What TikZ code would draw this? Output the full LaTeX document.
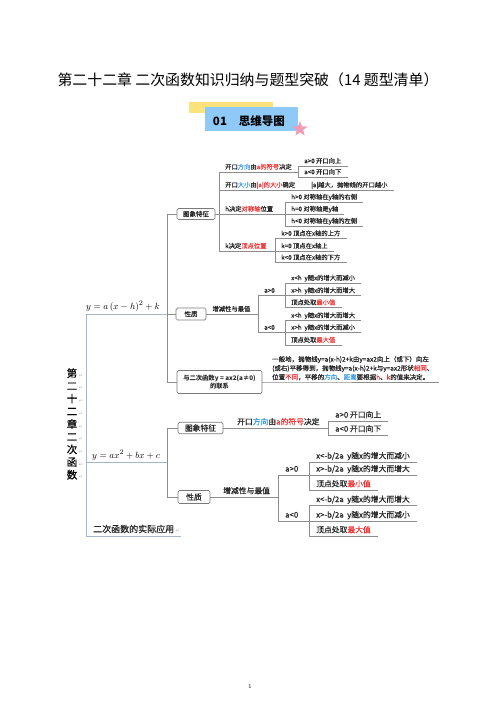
\documentclass[tikz,border=0pt]{standalone}
\usepackage{fontspec}
\usepackage{xcolor}
\usepackage{tikz}
\usetikzlibrary{positioning,shapes.geometric}
\newfontfamily\cjk{Noto Sans CJK SC}
\newfontfamily\cjkm{Noto Sans CJK SC}[FakeBold=0.7]
\newfontfamily\symf{DejaVu Sans}
\definecolor{lnc}{HTML}{8C8C8C}
\definecolor{boxc}{HTML}{7A7A7A}
\definecolor{trc}{HTML}{A7B6C6}
\definecolor{txc}{HTML}{262626}
\definecolor{hred}{HTML}{EC3A3A}
\definecolor{hblue}{HTML}{3A9BE3}
\definecolor{bannery}{HTML}{FBE27C}
\definecolor{bannerb}{HTML}{8FC9F7}
\definecolor{starp}{HTML}{F39BB6}
\newcommand{\rd}[1]{\textcolor{hred}{#1}}
\newcommand{\bl}[1]{\textcolor{hblue}{#1}}
\newcommand{\pmk}{\rlap{\,\symf\fontsize{5}{5}\selectfont\textcolor{trc}{↵}}}
\tikzset{
  ln/.style   ={draw=lnc, line width=0.8pt},
  trunk/.style={draw=trc, line width=0.8pt},
  box/.style  ={draw=boxc, line width=0.7pt, rounded corners=1.5pt, fill=white, align=center, inner sep=1pt, text=txc, font=\cjkm\fontsize{6.5}{8}\selectfont},
  tp/.style   ={anchor=south west, inner xsep=6pt, inner ysep=1.2pt, text height=5pt, text depth=1.4pt, text=txc, font=\cjkm\fontsize{6.3}{7.5}\selectfont},
  tpl/.style  ={anchor=south west, inner xsep=7pt, inner ysep=1.4pt, text height=6.3pt, text depth=1.8pt, text=txc, font=\cjkm\fontsize{7.8}{9.5}\selectfont},
  fml/.style  ={anchor=south west, inner xsep=0pt, inner ysep=2pt, font=\fontsize{9.5}{12}\selectfont},
}
\begin{document}
\begin{tikzpicture}[x=1pt, y=-1pt]
  \useasboundingbox (0,0) rectangle (500,707);
  % heading and banner
  \node[font=\cjk\fontsize{14.9}{18}\selectfont] (title) at (248,80) {第二十二章~二次函数知识归纳与题型突破（14~题型清单）};
  \fill[bannery] (189,102) rectangle (273,113);
  \fill[bannerb] (205,107) rectangle (298,131);
  \node[font=\cjk\bfseries\fontsize{11.5}{13}\selectfont] (band) at (249,121) {01\hspace{12pt}思维导图};
  \node[star, star points=5, star point ratio=2.4, fill=starp, minimum size=16pt, inner sep=0pt] (st) at (300,129) {};

  % root: vertical chapter name, two forms, application
  \node[font=\cjkm\fontsize{10.5}{12.7}\selectfont, align=center, inner sep=0pt] (vt) at (72,424) {第\pmk\\二\pmk\\十\pmk\\二\pmk\\章\pmk\\二\pmk\\次\pmk\\函\pmk\\数\pmk};
  \node[fml] (f1) at (86,314) {$y=a\left(x-h\right)^2+k$};
  \node[fml, inner xsep=6pt] (f2) at (86,462) {$y=ax^2+bx+c$};
  \node[tpl, font=\cjkm\fontsize{9}{11}\selectfont, text height=7pt, text depth=2pt] (ap) at (86,536) {二次函数的实际应用\pmk};
  \coordinate (tu) at (167,0);
  \coordinate (tl) at (167,0);
  \draw[trunk] (f1.south west) -- (ap.south west) -- (ap.south east);
  \draw[trunk] (f1.south west) -- (f1.south west -| tu);
  \draw[trunk] (f2.south west) -- (f2.south west -| tl);

  % upper form
  \node[box, minimum width=38pt, minimum height=11pt] (b1) at (196,214) {图象特征};
  \node[box, minimum width=30pt, minimum height=12pt] (b2) at (191,314) {性质};
  \node[box, minimum width=85pt, minimum height=23pt, font=\cjk\bfseries\fontsize{6.3}{8}\selectfont] (b3) at (219.5,382) {与二次函数y = ax2(a≠0)\\的联系};
  \draw[ln] (b1.west) -- (b1.west -| tu) -- (b3.west -| tu) -- (b3.west);
  \draw[ln] (b2.west) -- (b2.west -| tu);

  \node[tp] (t11) at (219,172) {开口\bl{方向}由\rd{a的符号}决定};
  \node[tp] (t12) at (219,190) {开口\bl{大小}由\rd{|a|的大小}确定};
  \node[tp] (t13) at (219,214) {h决定\rd{对称轴}位置};
  \node[tp] (t14) at (219,251) {k决定\rd{顶点位置}};
  \node[tp] (t111) at (298,166) {a>0 开口向上};
  \node[tp] (t112) at (298,177) {a<0 开口向下};
  \node[tp] (t121) at (305,190) {|a|越大，抛物线的开口越小};
  \node[tp] (t131) at (285,202) {h>0 对称轴在y轴的右侧};
  \node[tp] (t132) at (285,214) {h=0 对称轴是y轴};
  \node[tp] (t133) at (285,226) {h<0 对称轴在y轴的左侧};
  \node[tp] (t141) at (275,238.5) {k>0 顶点在x轴的上方};
  \node[tp] (t142) at (275,251) {k=0 顶点在x轴上};
  \node[tp] (t143) at (275,262.5) {k<0 顶点在x轴的下方};
  \draw[ln] (b1.east) -- (b1.east -| t11.south west);
  \draw[ln] (t11.south west) -- (t14.south west);
  \draw[ln] (t11.south west) -- (t11.south west -| t111.south west);
  \draw[ln] (t111.south west) -- (t112.south west);
  \draw[ln] (t12.south west) -- (t121.south east);
  \draw[ln] (t13.south west) -- (t13.south west -| t131.south west);
  \draw[ln] (t131.south west) -- (t133.south west);
  \draw[ln] (t14.south west) -- (t14.south west -| t141.south west);
  \draw[ln] (t141.south west) -- (t143.south west);

  \node[tp] (t21) at (b2.east) {增减性与最值};
  \node[tp] (t211) at (258,295.5) {a>0};
  \node[tp] (t212) at (258,332.5) {a<0};
  \node[tp] (t2111) at (285,283) {x<h~~y随x的增大而减小};
  \node[tp] (t2112) at (285,295.5) {x>h~~y随x的增大而增大};
  \node[tp] (t2113) at (285,307.5) {顶点处取\rd{最小值}};
  \node[tp] (t2121) at (285,320.5) {x<h~~y随x的增大而增大};
  \node[tp] (t2122) at (285,332.5) {x>h~~y随x的增大而减小};
  \node[tp] (t2123) at (285,345) {顶点处取\rd{最大值}};
  \draw[ln] (t21.south west) -- (t21.south west -| t211.south west);
  \draw[ln] (t211.south west) -- (t212.south west);
  \draw[ln] (t211.south west) -- (t211.south west -| t2111.south west);
  \draw[ln] (t212.south west) -- (t212.south west -| t2121.south west);
  \draw[ln] (t2111.south west) -- (t2113.south west);
  \draw[ln] (t2121.south west) -- (t2123.south west);

  \node[anchor=south west, inner xsep=6pt, inner ysep=1.5pt, align=left, text=txc, font=\cjkm\fontsize{6.5}{9}\selectfont] (t31) at (266,382) {一般地，抛物线y=a(x-h)2+k由y=ax2向上（或下）向左\\(或右)平移得到，抛物线y=a(x-h)2+k与y=ax2形状\rd{相同}、\\位置\rd{不同}，平移的\bl{方向}、\bl{距离}要根据\rd{h}、\rd{k}的值来决定。};
  \draw[ln] (b3.east) -- (t31.south west) -- (t31.south east);
  \foreach \n in {t111,t112,t131,t132,t133,t141,t142,t143,t2111,t2112,t2113,t2121,t2122,t2123}
    \draw[ln] (\n.south west) -- (\n.south east);

  % lower form
  \node[box, minimum width=45pt, minimum height=11.5pt, font=\cjkm\fontsize{7.8}{9}\selectfont] (c1) at (200.5,428) {图象特征};
  \node[box, minimum width=32pt, minimum height=13pt, font=\cjkm\fontsize{7.8}{9}\selectfont] (c2) at (194,497) {性质};
  \draw[ln] (c1.west) -- (c1.west -| tl) -- (c2.west -| tl) -- (c2.west);

  \node[tpl] (s11) at (230,428) {开口\bl{方向}由\rd{a的符号}决定};
  \node[tpl] (s111) at (328,421) {a>0 开口向上};
  \node[tpl] (s112) at (328,435) {a<0 开口向下};
  \draw[ln] (c1.east) -- (s11.south west);
  \draw[ln] (s11.south west) -- (s11.south west -| s111.south west);
  \draw[ln] (s111.south west) -- (s112.south west);

  \node[tpl] (s21) at (216,497) {增减性与最值};
  \node[tpl] (s211) at (278,475) {a>0};
  \node[tpl] (s212) at (278,521) {a<0};
  \node[tpl] (s2111) at (309,462) {x<-b/2a~~y随x的增大而减小};
  \node[tpl] (s2112) at (309,475) {x>-b/2a~~y随x的增大而增大};
  \node[tpl] (s2113) at (309,490) {顶点处取\rd{最小值}};
  \node[tpl] (s2121) at (309,505.5) {x<-b/2a~~y随x的增大而增大};
  \node[tpl] (s2122) at (309,521) {x>-b/2a~~y随x的增大而减小};
  \node[tpl] (s2123) at (309,536) {顶点处取\rd{最大值}};
  \draw[ln] (c2.east) -- (s21.south west);
  \draw[ln] (s21.south west) -- (s21.south west -| s211.south west);
  \draw[ln] (s211.south west) -- (s212.south west);
  \draw[ln] (s211.south west) -- (s211.south west -| s2111.south west);
  \draw[ln] (s212.south west) -- (s212.south west -| s2121.south west);
  \draw[ln] (s2111.south west) -- (s2113.south west);
  \draw[ln] (s2121.south west) -- (s2123.south west);
  \foreach \n in {s111,s112,s2111,s2112,s2113,s2121,s2122,s2123}
    \draw[ln] (\n.south west) -- (\n.south east);

  \node[font=\fontsize{6}{7}\selectfont] (pg) at (250,686) {1};
\end{tikzpicture}
\end{document}
